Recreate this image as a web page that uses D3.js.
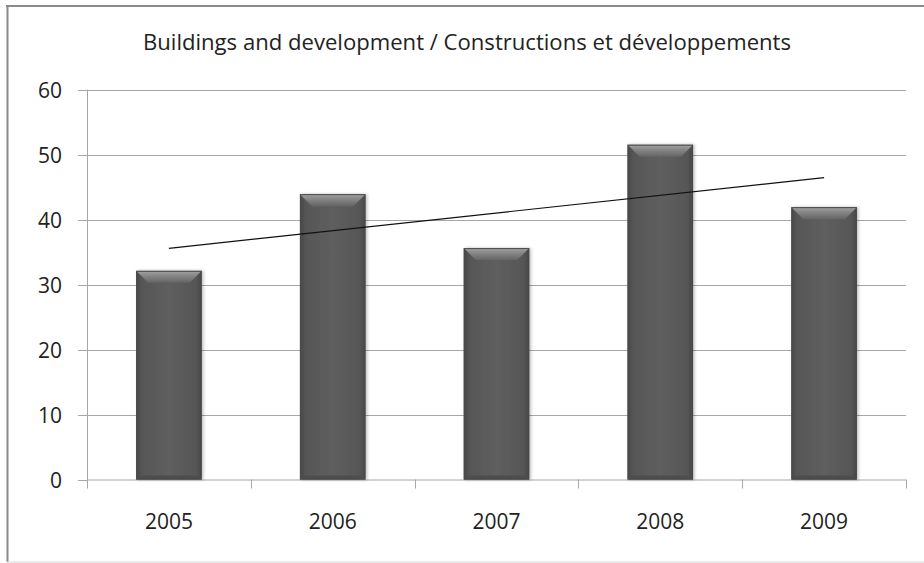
<!DOCTYPE html>
<html>
<head>
<meta charset="utf-8">
<script src="https://cdn.jsdelivr.net/npm/d3@7"></script>
<style>
  html, body { margin: 0; padding: 0; background: #fff; }
  svg { display: block; }
  text { font-family: "Open Sans", "Noto Sans", sans-serif; fill: #222; }
</style>
</head>
<body>
<svg id="chart" width="924" height="563"></svg>
<script>
// Data
const years = ["2005", "2006", "2007", "2008", "2009"];
const values = [32.1, 43.9, 35.6, 51.5, 41.9];
const yTicks = [0, 10, 20, 30, 40, 50, 60];
const title = "Buildings and development / Constructions et développements";

const W = 924, H = 563;
const plot = { left: 87, right: 906, top: 89.5, bottom: 479.5 };

const svg = d3.select("#chart");

// Frame
svg.append("rect").attr("x", 0).attr("y", 0).attr("width", W).attr("height", H).attr("fill", "#fff");
svg.append("line").attr("x1", 6).attr("x2", W).attr("y1", 6).attr("y2", 6)
  .attr("stroke", "#8a8a8a").attr("stroke-width", 2);
svg.append("line").attr("x1", 7.5).attr("x2", 7.5).attr("y1", 5).attr("y2", 562)
  .attr("stroke", "#8a8a8a").attr("stroke-width", 2);
svg.append("line").attr("x1", 7).attr("x2", W).attr("y1", 562).attr("y2", 562)
  .attr("stroke", "#d8d8d8").attr("stroke-width", 1);

// Scales
const x = d3.scaleBand().domain(years).range([plot.left, plot.right])
  .paddingInner(0.6).paddingOuter(0.3);
const y = d3.scaleLinear().domain([0, 60]).range([plot.bottom, plot.top]);

// Gradients
const defs = svg.append("defs");
const body = defs.append("linearGradient").attr("id", "barBody")
  .attr("x1", "0").attr("x2", "1").attr("y1", "0").attr("y2", "0");
[[0, "#484848"], [0.1, "#575757"], [0.5, "#5e5e5e"], [0.9, "#575757"], [1, "#484848"]]
  .forEach(([o, c]) => body.append("stop").attr("offset", o).attr("stop-color", c));
const topG = defs.append("linearGradient").attr("id", "barTop")
  .attr("x1", "0").attr("x2", "0").attr("y1", "0").attr("y2", "1");
[[0, "#a4a4a4"], [0.35, "#8a8a8a"], [1, "#646464"]]
  .forEach(([o, c]) => topG.append("stop").attr("offset", o).attr("stop-color", c));
const shadow = defs.append("filter").attr("id", "barShadow")
  .attr("x", "-20%").attr("y", "-10%").attr("width", "140%").attr("height", "120%");
shadow.append("feDropShadow").attr("dx", 1.5).attr("dy", 0).attr("stdDeviation", 1.5)
  .attr("flood-color", "#000").attr("flood-opacity", 0.25);

// Gridlines
svg.append("g").selectAll("line").data(yTicks.filter(d => d > 0)).join("line")
  .attr("x1", plot.left).attr("x2", plot.right)
  .attr("y1", d => Math.round(y(d)) + 0.5).attr("y2", d => Math.round(y(d)) + 0.5)
  .attr("stroke", "#a6a6a6").attr("stroke-width", 1);

// Y axis
const yAxis = svg.append("g").attr("transform", `translate(${plot.left},0)`)
  .call(d3.axisLeft(y).tickValues(yTicks).tickSize(9).tickPadding(25).tickFormat(d3.format("d")));
yAxis.select(".domain").attr("stroke", "#a6a6a6").attr("d", `M0.5,${plot.top}V${plot.bottom + 8}`);
yAxis.selectAll(".tick line").attr("stroke", "#a6a6a6");
yAxis.selectAll(".tick").attr("transform", d => `translate(0,${Math.round(y(d)) + 0.5})`);
yAxis.selectAll(".tick text").attr("font-family", "Open Sans, Noto Sans, sans-serif")
  .attr("font-size", 21).attr("fill", "#222").attr("dy", "0.35em").attr("x", -25);

// X axis (ticks on category boundaries)
const bounds = d3.range(years.length + 1).map(i => plot.left + i * x.step());
const xg = svg.append("g");
xg.append("line").attr("x1", plot.left).attr("x2", plot.right)
  .attr("y1", plot.bottom + 0.5).attr("y2", plot.bottom + 0.5).attr("stroke", "#a6a6a6");
xg.selectAll("line.tk").data(bounds).join("line").attr("class", "tk")
  .attr("x1", d => Math.round(d) + 0.5).attr("x2", d => Math.round(d) + 0.5)
  .attr("y1", plot.bottom).attr("y2", plot.bottom + 9).attr("stroke", "#a6a6a6");
xg.selectAll("text").data(years).join("text")
  .attr("x", d => x(d) + x.bandwidth() / 2).attr("y", 529)
  .attr("text-anchor", "middle").attr("font-size", 21).text(d => d);

// Bars with bevelled edges
const bev = 12, side = 4;
const bars = svg.append("g").selectAll("g").data(years.map((d, i) => ({ year: d, value: values[i] })))
  .join("g").attr("filter", "url(#barShadow)");
bars.append("rect")
  .attr("x", d => x(d.year)).attr("y", d => y(d.value))
  .attr("width", x.bandwidth()).attr("height", d => y(0) - y(d.value))
  .attr("fill", "url(#barBody)");
bars.append("polygon").attr("fill", "url(#barTop)")
  .attr("points", d => {
    const x0 = x(d.year), x1 = x0 + x.bandwidth(), t = y(d.value);
    return `${x0},${t} ${x1},${t} ${x1 - bev},${t + bev} ${x0 + bev},${t + bev}`;
  });
bars.append("polygon").attr("fill", "#4e4e4e")
  .attr("points", d => {
    const x0 = x(d.year), x1 = x0 + x.bandwidth(), b = y(0);
    return `${x0},${b} ${x1},${b} ${x1 - side},${b - side} ${x0 + side},${b - side}`;
  });
bars.append("rect")
  .attr("x", d => x(d.year) + 0.5).attr("y", d => y(d.value) + 0.5)
  .attr("width", x.bandwidth() - 1).attr("height", d => y(0) - y(d.value) - 1)
  .attr("fill", "none").attr("stroke", "#4a4a4a").attr("stroke-width", 1);

// Linear trendline (least squares over the bar values)
const n = values.length;
const xs = d3.range(1, n + 1);
const mx = d3.mean(xs), my = d3.mean(values);
const slope = d3.sum(xs, (v, i) => (v - mx) * (values[i] - my)) / d3.sum(xs, v => (v - mx) ** 2);
const icpt = my - slope * mx;
const trend = years.map((yr, i) => [x(yr) + x.bandwidth() / 2, y(icpt + slope * xs[i])]);
svg.append("path").attr("d", d3.line()([trend[0], trend[n - 1]]))
  .attr("fill", "none").attr("stroke", "#111").attr("stroke-width", 1.2);

// Title
svg.append("text").attr("x", 467).attr("y", 50).attr("text-anchor", "middle")
  .attr("font-size", 21).attr("textLength", 648).attr("lengthAdjust", "spacingAndGlyphs")
  .text(title);
</script>
</body>
</html>
